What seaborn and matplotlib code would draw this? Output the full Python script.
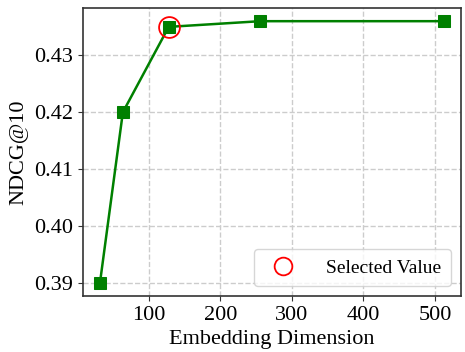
import pandas as pd
import matplotlib
matplotlib.use("Agg")
import matplotlib.pyplot as plt
import seaborn as sns

# embedding dimension sweep
dims = [32, 64, 128, 256, 512]
ndcg = [0.390, 0.420, 0.435, 0.436, 0.436]
selected_dim = 128
selected_ndcg = 0.435

df = pd.DataFrame({"dim": dims, "ndcg": ndcg})

sns.set_style("ticks")
plt.rcParams["font.family"] = ["Liberation Serif", "DejaVu Serif"]
plt.rcParams["text.color"] = "black"
plt.rcParams["axes.labelcolor"] = "black"
plt.rcParams["xtick.color"] = "black"
plt.rcParams["ytick.color"] = "black"

fig, ax = plt.subplots(figsize=(4.65, 3.52), dpi=100)

sns.lineplot(data=df, x="dim", y="ndcg", ax=ax, color="green", marker="s",
             markersize=9, markeredgecolor="green", linewidth=1.8)
ax.plot([selected_dim], [selected_ndcg], "o", markersize=15, markerfacecolor="none",
        markeredgecolor="red", markeredgewidth=1.3, linestyle="none", label="Selected Value")

ax.grid(True, linestyle="--", color="#cccccc", linewidth=1)
ax.set_xticks([100, 200, 300, 400, 500])
ax.set_yticks([0.39, 0.40, 0.41, 0.42, 0.43])
ax.tick_params(labelsize=16, color="#333333")
ax.set_xlabel("Embedding Dimension", fontsize=16)
ax.set_ylabel("NDCG@10", fontsize=16)
for s in ax.spines.values():
    s.set_color("#333333")
    s.set_linewidth(1.2)

ax.legend(loc="lower right", fontsize=14, borderpad=0.5, handletextpad=1.2, markerscale=0.85)

fig.subplots_adjust(left=0.178, right=0.991, top=0.977, bottom=0.159)
plt.savefig("out.png", dpi=100)
